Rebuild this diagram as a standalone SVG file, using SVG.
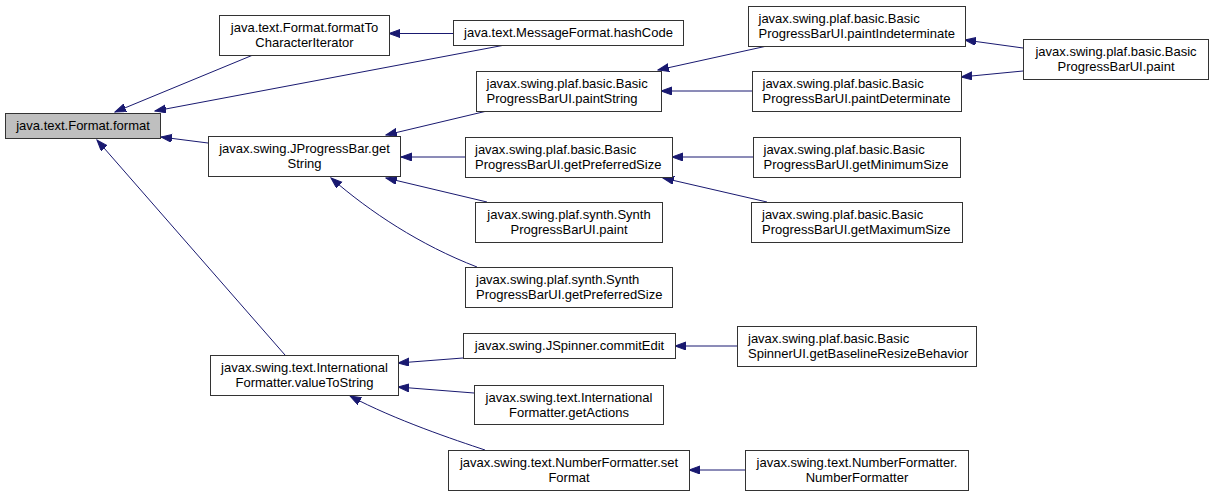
<svg xmlns="http://www.w3.org/2000/svg" width="1213" height="496" viewBox="0 0 1213 496">
<style>
.n rect{fill:#fff;stroke:#333;stroke-width:1}
.n.hl rect{fill:#bfbfbf}
text{font-family:"Liberation Sans",Arial,sans-serif;font-size:13px;fill:#000}
.c{text-anchor:middle}
.e path{fill:none;stroke:#191970;stroke-width:1;marker-end:url(#ah)}
</style>
<defs>
<marker id="ah" markerUnits="userSpaceOnUse" markerWidth="12" markerHeight="9" refX="11" refY="4" orient="auto">
<path d="M0,0 L11,4 L0,8 z" fill="#191970" stroke="#191970" stroke-width="1"/>
</marker>
</defs>
<rect width="1213" height="496" fill="#fff"/>
<g id="edges" class="e">
<path d="M253,55 L115,112"/>
<path d="M505,45 L155,111"/>
<path d="M453,33.5 L389,33.5"/>
<path d="M208,143 L161,137"/>
<path d="M285,355 L97,140"/>
<path d="M487,111 L386,135"/>
<path d="M465,157 L401,157"/>
<path d="M487,202 L386,178"/>
<path d="M477,267 C420,245 370,212 331,178"/>
<path d="M767,46 L658,70"/>
<path d="M752,91 L661,91"/>
<path d="M753,157 L672,157"/>
<path d="M767,202 L663,178"/>
<path d="M1023,48 L965,40"/>
<path d="M1023,71 L961,77"/>
<path d="M463,358 L398,363"/>
<path d="M474,393 L398,387"/>
<path d="M485,450 C455,440 395,420 350,396"/>
<path d="M737,346 L675,346"/>
<path d="M745,470 L689,470"/>
</g>
<g id="n_format" class="n hl"><rect x="5.5" y="113.5" width="155" height="25"/><text class="c" x="83" y="130">java.text.Format.format</text></g>
<g id="n_formatToCI" class="n"><rect x="219.5" y="15.5" width="170" height="40"/><text class="c" x="304.5" y="32">java.text.Format.formatTo</text><text class="c" x="304.5" y="47">CharacterIterator</text></g>
<g id="n_hashCode" class="n"><rect x="453.5" y="20.5" width="230" height="25"/><text class="c" x="568.5" y="37">java.text.MessageFormat.hashCode</text></g>
<g id="n_getString" class="n"><rect x="208.5" y="136.5" width="192" height="40"/><text class="c" x="304.5" y="153">javax.swing.JProgressBar.get</text><text class="c" x="304.5" y="168">String</text></g>
<g id="n_valueToString" class="n"><rect x="210.5" y="355.5" width="188" height="40"/><text class="c" x="304.5" y="372">javax.swing.text.International</text><text class="c" x="304.5" y="387">Formatter.valueToString</text></g>
<g id="n_paintString" class="n"><rect x="476.5" y="71.5" width="185" height="40"/><text x="486.5" y="88">javax.swing.plaf.basic.Basic</text><text x="486.5" y="103">ProgressBarUI.paintString</text></g>
<g id="n_bGetPref" class="n"><rect x="465.5" y="137.5" width="207" height="40"/><text x="475" y="154">javax.swing.plaf.basic.Basic</text><text x="475" y="169">ProgressBarUI.getPreferredSize</text></g>
<g id="n_sPaint" class="n"><rect x="475.5" y="202.5" width="187" height="40"/><text class="c" x="569" y="219">javax.swing.plaf.synth.Synth</text><text class="c" x="569" y="234">ProgressBarUI.paint</text></g>
<g id="n_sGetPref" class="n"><rect x="465.5" y="267.5" width="207" height="40"/><text x="476" y="284">javax.swing.plaf.synth.Synth</text><text x="476" y="299">ProgressBarUI.getPreferredSize</text></g>
<g id="n_commitEdit" class="n"><rect x="463.5" y="333.5" width="212" height="25"/><text class="c" x="569.5" y="350">javax.swing.JSpinner.commitEdit</text></g>
<g id="n_getActions" class="n"><rect x="474.5" y="385.5" width="189" height="39"/><text class="c" x="569" y="402">javax.swing.text.International</text><text class="c" x="569" y="417">Formatter.getActions</text></g>
<g id="n_setFormat" class="n"><rect x="448.5" y="450.5" width="241" height="40"/><text class="c" x="569" y="467">javax.swing.text.NumberFormatter.set</text><text class="c" x="569" y="482">Format</text></g>
<g id="n_paintIndet" class="n"><rect x="748.5" y="6.5" width="217" height="40"/><text x="758.5" y="23">javax.swing.plaf.basic.Basic</text><text x="758.5" y="38">ProgressBarUI.paintIndeterminate</text></g>
<g id="n_paintDet" class="n"><rect x="752.5" y="71.5" width="209" height="40"/><text x="762.5" y="88">javax.swing.plaf.basic.Basic</text><text x="762.5" y="103">ProgressBarUI.paintDeterminate</text></g>
<g id="n_getMin" class="n"><rect x="753.5" y="137.5" width="207" height="40"/><text x="763.5" y="154">javax.swing.plaf.basic.Basic</text><text x="763.5" y="169">ProgressBarUI.getMinimumSize</text></g>
<g id="n_getMax" class="n"><rect x="751.5" y="202.5" width="211" height="40"/><text x="762" y="219">javax.swing.plaf.basic.Basic</text><text x="762" y="234">ProgressBarUI.getMaximumSize</text></g>
<g id="n_bPaint" class="n"><rect x="1023.5" y="39.5" width="185" height="40"/><text class="c" x="1116" y="56">javax.swing.plaf.basic.Basic</text><text class="c" x="1116" y="71">ProgressBarUI.paint</text></g>
<g id="n_spinnerUI" class="n"><rect x="737.5" y="326.5" width="239" height="40"/><text x="748" y="343">javax.swing.plaf.basic.Basic</text><text x="748" y="358">SpinnerUI.getBaselineResizeBehavior</text></g>
<g id="n_nfCtor" class="n"><rect x="745.5" y="450.5" width="223" height="40"/><text class="c" x="857" y="467">javax.swing.text.NumberFormatter.</text><text class="c" x="857" y="482">NumberFormatter</text></g>
</svg>
